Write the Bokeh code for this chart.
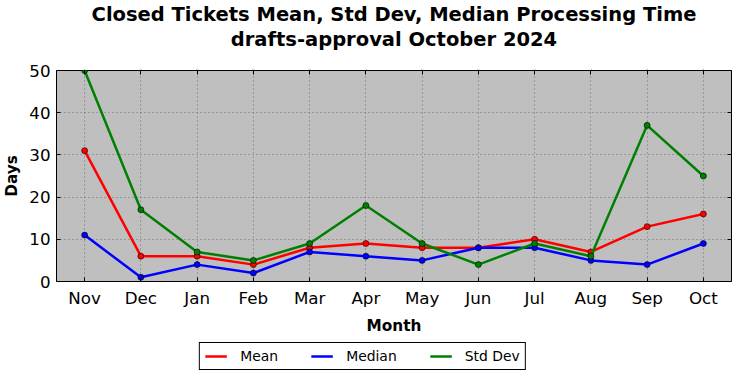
from bokeh.plotting import figure
from bokeh.layouts import column
from bokeh.models import Title, Legend, LegendItem, LinearAxis, CategoricalAxis, Range1d, FactorRange
from bokeh.embed import file_html
from bokeh.resources import INLINE

months = ["Nov", "Dec", "Jan", "Feb", "Mar", "Apr", "May", "Jun", "Jul", "Aug", "Sep", "Oct"]
mean_vals = [31, 6, 6, 4, 8, 9, 8, 8, 10, 7, 13, 16]
median_vals = [11, 1, 4, 2, 7, 6, 5, 8, 8, 5, 4, 9]
std_vals = [50, 17, 7, 5, 9, 18, 9, 4, 9, 6, 37, 25]
y_ticks = [0, 10, 20, 30, 40, 50]
series = [("Mean", mean_vals, "#ff0000"), ("Median", median_vals, "#0000ff"), ("Std Dev", std_vals, "#008000")]

FONT = "DejaVu Sans"

p = figure(frame_width=675, frame_height=211, x_range=FactorRange(*months), y_range=Range1d(0, 50),
           output_backend="svg", toolbar_location=None,
           min_border_left=49, min_border_right=1, min_border_top=0, min_border_bottom=0)

p.border_fill_color = "white"
p.background_fill_color = "#bfbfbf"
p.outline_line_color = "black"
p.outline_line_width = 1

for name, vals, col in series:
    p.line(months, vals, line_color=col, line_width=2.5)
    p.scatter(months, vals, size=6, fill_color=col, line_color="black", line_width=0.6)

for ax in p.xaxis + p.yaxis:
    ax.major_tick_in = 4
    ax.major_tick_out = 0
    ax.minor_tick_in = 0
    ax.minor_tick_out = 0
    ax.axis_line_color = None
    ax.major_label_text_font = FONT
    ax.major_label_text_font_size = "16.7px"
    ax.major_label_text_color = "black"
    ax.axis_label_text_font = FONT
    ax.axis_label_text_font_size = "15.3px"
    ax.axis_label_text_font_style = "bold"
    ax.axis_label_text_color = "black"
    ax.major_tick_line_color = "black"

p.yaxis.ticker = y_ticks
p.yaxis.axis_label = "Days"
p.xaxis.axis_label = "Month"
p.xaxis.major_label_standoff = 6
p.yaxis.major_label_standoff = 6
p.xaxis.axis_label_standoff = 6
p.yaxis.axis_label_standoff = 5

ra = LinearAxis(ticker=y_ticks, major_label_overrides={t: "" for t in y_ticks},
                major_tick_in=4, major_tick_out=0, minor_tick_in=0, minor_tick_out=0, axis_line_color=None,
                major_label_standoff=0, major_label_text_font_size="1px")
p.add_layout(ra, "right")
# top axis: inward ticks, and its label carries the second title line
ta = CategoricalAxis(major_label_overrides={m: "" for m in months}, major_tick_in=4, major_tick_out=0,
                     axis_line_color=None, major_label_standoff=0, major_label_text_font_size="1px",
                     axis_label="drafts-approval October 2024", axis_label_text_font=FONT,
                     axis_label_text_font_size="19.5px", axis_label_text_font_style="bold",
                     axis_label_text_color="black", axis_label_standoff=15)
p.add_layout(ta, "above")

for g in (p.xgrid[0], p.ygrid[0]):
    g.grid_line_color = "black"
    g.grid_line_alpha = 0.4
    g.grid_line_dash = "1 3"
    g.grid_line_width = 1

p.add_layout(Title(text="Closed Tickets Mean, Std Dev, Median Processing Time", text_font=FONT,
                   text_font_size="19.5px", text_font_style="bold", text_color="black",
                   align="center", standoff=0), "above")

# legend strip below the chart (its lines lie outside its own view range, so only the legend shows)
lf = figure(frame_width=675, frame_height=38, x_range=p.x_range, y_range=Range1d(100, 101),
            output_backend="svg", toolbar_location=None, x_axis_location=None, y_axis_location=None,
            min_border_left=49, min_border_right=1, min_border_top=0, min_border_bottom=0)
lf.outline_line_color = None
lf.background_fill_color = "white"
lf.border_fill_color = "white"
lf.xgrid.visible = False
lf.ygrid.visible = False
items = []
for name, vals, col in series:
    r = lf.line(months, vals, line_color=col, line_width=2.5)
    items.append(LegendItem(label=name, renderers=[r]))

legend = Legend(items=items, orientation="horizontal", location="center",
                label_text_font=FONT, label_text_font_size="13.9px", label_text_color="black",
                border_line_color="black", border_line_width=1, border_line_alpha=1,
                glyph_width=22, glyph_height=14, label_standoff=13, spacing=33, padding=5, margin=0,
                background_fill_alpha=1)
lf.add_layout(legend, "center")

open("out.html", "w").write(file_html(column(p, lf, spacing=0), INLINE))
